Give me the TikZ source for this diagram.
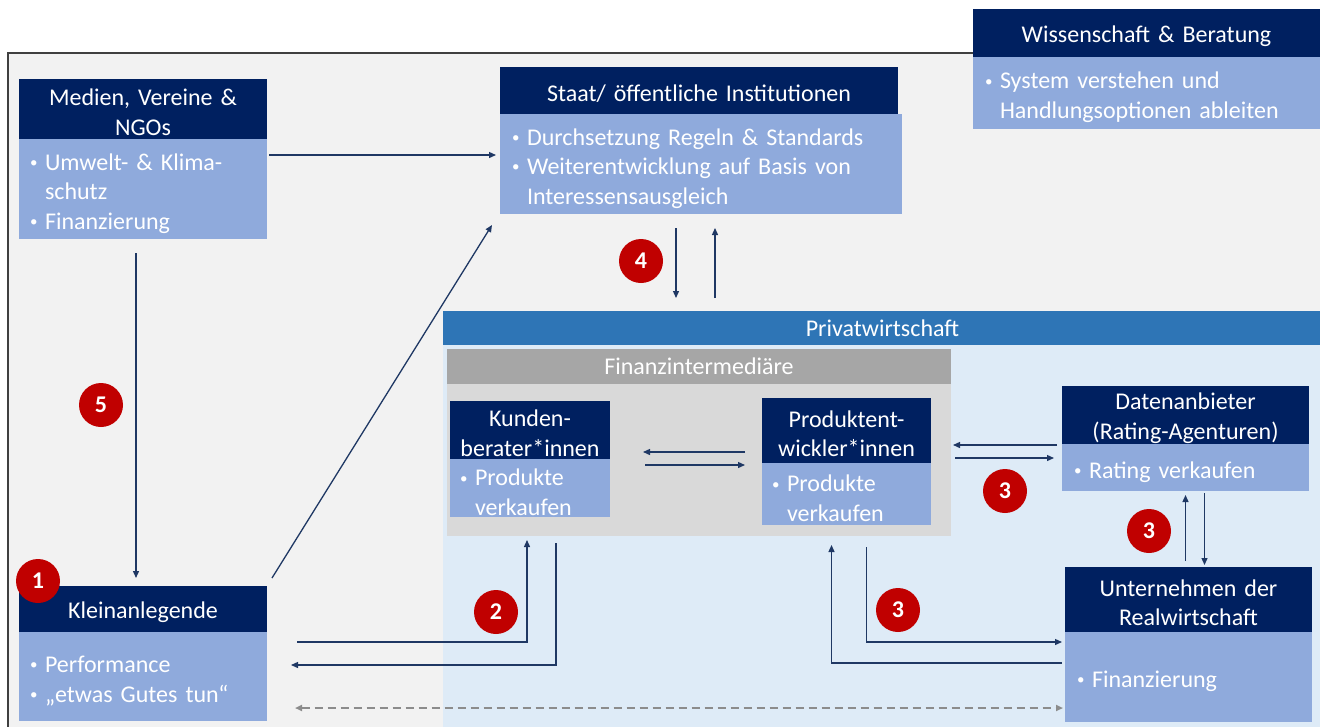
\documentclass[tikz,border=0pt]{standalone}
\usepackage{fontspec}
\setmainfont{Carlito}
\usetikzlibrary{arrows.meta,calc}
\definecolor{navy}{HTML}{002060}
\definecolor{lblue}{HTML}{8FAADC}
\definecolor{pblue}{HTML}{2E75B6}
\definecolor{pregion}{HTML}{DEEBF7}
\definecolor{ghead}{HTML}{A6A6A6}
\definecolor{gbody}{HTML}{D9D9D9}
\definecolor{bgc}{HTML}{F2F2F2}
\definecolor{arr}{HTML}{1F3864}
\definecolor{badge}{HTML}{C00000}
\definecolor{dgray}{HTML}{8C8C8C}
\definecolor{frame}{HTML}{404040}
\tikzset{
  box/.style={anchor=north west, inner sep=0pt, outer sep=0pt, text=white,
    font=\fontsize{24}{29.5}\selectfont},
  hd/.style={box, fill=navy, align=center},
  bd/.style={box, fill=lblue, align=left, inner xsep=12pt},
  conn/.style={draw=arr, line width=1.3pt, -{Triangle[length=7pt,width=6pt]}},
  dconn/.style={draw=dgray, line width=1.8pt, dash pattern=on 8pt off 5pt,
    {Triangle[length=7pt,width=6pt]}-{Triangle[length=7pt,width=6pt]}},
  badgec/.style={circle, fill=badge, minimum size=44pt, inner sep=0pt, text=white,
    font=\fontsize{24}{24}\selectfont\bfseries},
}
\newcommand{\bu}{\makebox[15pt][l]{\raisebox{0.12em}{\fontsize{15}{15}\selectfont•}}}
\newcommand{\bI}{\hspace*{15pt}}
\newcommand{\hstrut}{\rule{0pt}{23.5pt}}
\newcommand{\bstrut}{\rule{0pt}{25.5pt}}
\begin{document}
\begin{tikzpicture}[x=1pt,y=-1pt]
\useasboundingbox (0,0) rectangle (1320,726);
% background frame
\fill[bgc] (8,53) rectangle (1324,730);
\draw[frame, line width=1.5pt] (8,730) -- (8,53) -- (1324,53);

% Privatwirtschaft region
\node[box, fill=pregion, minimum width=879pt, minimum height=417pt] (privR) at (443,311) {};
\node[box, fill=pblue, minimum width=879pt, minimum height=34pt] (privH) at (443,311) {Privatwirtschaft};

% Finanzintermediaere
\node[box, fill=gbody, minimum width=504pt, minimum height=187pt] (finR) at (447,349) {};
\node[box, fill=ghead, minimum width=504pt, minimum height=35pt] (finH) at (447,349) {Finanzintermediäre};

% Wissenschaft
\node[hd, minimum width=347pt, text width=347pt, minimum height=48pt] (wisH) at (973,9) {\hstrut Wissenschaft \& Beratung};
\node[bd, minimum width=347pt, text width=323pt, minimum height=72pt] (wisB) at (973,57) {\bstrut\bu System verstehen und\\\bI Handlungsoptionen ableiten};

% Medien
\node[hd, minimum width=248pt, text width=248pt, minimum height=60pt] (medH) at (19,79) {\hstrut Medien, Vereine \&\\NGOs};
\node[bd, minimum width=248pt, text width=226pt, minimum height=100pt, inner xsep=11pt] (medB) at (19,139) {\bstrut\bu Umwelt- \& Klima-\\\bI schutz\\\bu Finanzierung};

% Staat
\node[hd, minimum width=398pt, text width=398pt, minimum height=47pt] (staatH) at (500,67) {\hstrut Staat/ öffentliche Institutionen};
\node[bd, minimum width=402pt, text width=378pt, minimum height=100pt] (staatB) at (500,114) {\bstrut\bu Durchsetzung Regeln \& Standards\\\bu Weiterentwicklung auf Basis von\\\bI Interessensausgleich};

% Kundenberater
\node[hd, minimum width=160pt, text width=160pt, minimum height=58pt] (kunH) at (450,401) {\hstrut Kunden-\\berater*innen};
\node[bd, minimum width=160pt, text width=140pt, minimum height=58pt, inner xsep=10pt] (kunB) at (450,459) {\bstrut\bu Produkte\\\bI verkaufen};

% Produktentwickler
\node[hd, minimum width=169pt, text width=169pt, minimum height=65pt] (proH) at (762,398) {\hstrut Produktent-\\wickler*innen};
\node[bd, minimum width=169pt, text width=149pt, minimum height=62pt, inner xsep=10pt] (proB) at (762,463) {\bstrut\bu Produkte\\\bI verkaufen};

% Datenanbieter
\node[hd, minimum width=247pt, text width=247pt, minimum height=58pt] (datH) at (1062,386) {\hstrut Datenanbieter\\(Rating-Agenturen)};
\node[bd, minimum width=247pt, text width=223pt, minimum height=47pt] (datB) at (1062,444) {\bstrut\bu Rating verkaufen};

% Unternehmen
\node[hd, minimum width=247pt, text width=247pt, minimum height=65pt] (untH) at (1065,567) {\hstrut Unternehmen der\\Realwirtschaft};
\node[bd, minimum width=247pt, text width=223pt, minimum height=90pt] (untB) at (1065,632) {\bstrut\bu Finanzierung};

% Kleinanlegende
\node[hd, minimum width=248pt, text width=248pt, minimum height=46pt] (klH) at (19,586) {\hstrut Kleinanlegende};
\node[bd, minimum width=248pt, text width=226pt, minimum height=89pt, inner xsep=11pt] (klB) at (19,632) {\bstrut\bu Performance\\\bu „etwas Gutes tun“};

% connectors
\draw[conn] ($(medB.north east)+(2,16)$) -- ($(staatB.north west)+(-4,41)$);
\draw[conn] ($(klH.north east)+(5,-8)$) -- ($(staatB.south west)+(-8,11)$);
\draw[conn] ($(medB.south)+(-7,14)$) -- ($(klH.north)+(-7,-8)$);
\draw[conn] ($(staatB.south)+(-25,14)$) -- ($(staatB.south |- privH.north)+(-25,-13)$);
\draw[conn] ($(staatB.south |- privH.north)+(14,-13)$) -- ($(staatB.south)+(14,14)$);
\draw[conn] ($(klB.north east)+(30,10)$) -| ($(kunB.south)+(-3,23)$);
\draw[conn] ($(kunB.south)+(26,26)$) |- ($(klB.north east)+(24,33)$);
\draw[conn] ($(proH.south west)+(-17,-11)$) -- ($(kunH.south east)+(33,-7)$);
\draw[conn] ($(kunB.north east)+(35,6)$) -- ($(proH.south west)+(-17,2)$);
\draw[conn] ($(datB.north west)+(-5,1)$) -- ($(proH.south east)+(22,-18)$);
\draw[conn] ($(proH.south east)+(24,-5)$) -- ($(datB.north west)+(-8,14)$);
\draw[conn] ($(datB.south |- untH.north)+(0,-6)$) -- ($(datB.south)+(0,4)$);
\draw[conn] ($(datB.south)+(19,2)$) -- ($(datB.south |- untH.north)+(19,-2)$);
\draw[conn] ($(proB.south)+(20,22)$) |- ($(untB.north west)+(-3,10)$);
\draw[conn] ($(untB.north west)+(-3,31)$) -| ($(proB.south)+(-15,20)$);
\draw[dconn] ($(klB.south east)+(28,-13)$) -- ($(untB.south west)+(-2,-14)$);

% badges
\node[badgec] (b1) at (38,581) {1};
\node[badgec] (b2) at (496,612) {2};
\node[badgec] (b3a) at (1005,491) {3};
\node[badgec] (b3b) at (1149,531) {3};
\node[badgec] (b3c) at (898,610) {3};
\node[badgec] (b4) at (641,261) {4};
\node[badgec] (b5) at (101,405) {5};
\end{tikzpicture}
\end{document}
